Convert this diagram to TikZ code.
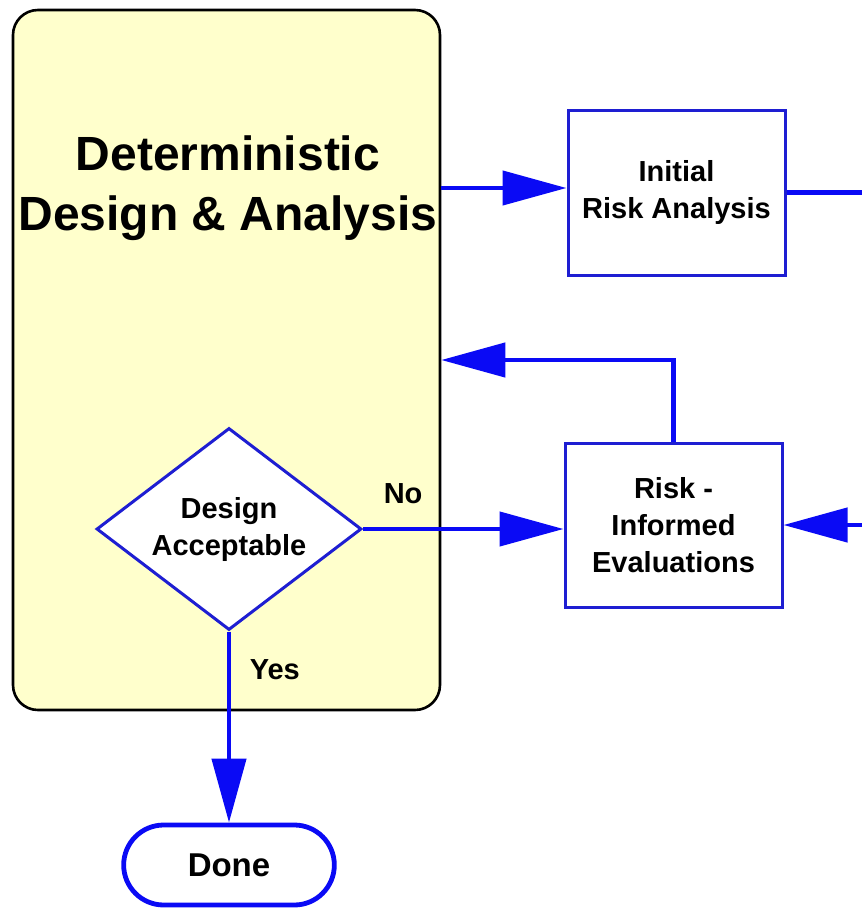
\documentclass[tikz,border=0pt]{standalone}
\usepackage{fontspec}
\setmainfont{Liberation Sans}
\usetikzlibrary{arrows.meta,shapes.geometric,shapes.misc,positioning}
\definecolor{padyellow}{RGB}{255,255,204}
\definecolor{boxblue}{RGB}{30,30,210}
\definecolor{flowblue}{RGB}{10,10,245}

\begin{document}
\begin{tikzpicture}[x=0.5pt,y=-0.5pt,
    procbox/.style={draw=boxblue,line width=1.5pt,fill=white,minimum width=108.5pt,
      minimum height=82pt,align=center,font=\bfseries\fontsize{14.5}{18.5}\selectfont},
    decision/.style={diamond,aspect=1.5,draw=boxblue,line width=1.5pt,fill=white,inner sep=0pt,
      minimum width=132.5pt,minimum height=101pt,align=center,
      font=\bfseries\fontsize{14.5}{18.5}\selectfont},
    terminal/.style={rounded rectangle,draw=flowblue,line width=2.4pt,fill=white,
      minimum width=112pt,minimum height=40pt,font=\bfseries\fontsize{16.5}{20}\selectfont},
    flowarrow/.style={draw=flowblue,line width=2.2pt,
      -{Triangle[length=32pt,width=17pt,fill=flowblue]}},
    lbl/.style={font=\bfseries\fontsize{14.5}{18.5}\selectfont}]
  \useasboundingbox (0,0) rectangle (862,910);
  % deterministic stage
  \node[draw=black,line width=1.3pt,fill=padyellow,rounded corners=12.5pt,
        minimum width=213.5pt,minimum height=350pt] (detbox) at (226.5,360) {};
  \node[align=center,font=\bfseries\fontsize{24}{30}\selectfont] (title) at (228,188)
        {Deterministic\\Design \& Analysis};
  \node[decision] (accept) at (229,529) {Design\\Acceptable};
  % risk side
  \node[procbox,minimum height=82.5pt] (initrisk) at (676.5,192.5) {Initial\\Risk Analysis};
  \node[procbox] (riskeval) at (673.5,525) {Risk -\\Informed\\Evaluations};
  \node[terminal] (done) at (229,865) {Done};
  \coordinate (redge) at (862,0);
  % connectors
  \draw[flowarrow] (detbox.east |- title) -- (title -| initrisk.west);
  \draw[draw=flowblue,line width=2.2pt] (initrisk.east) -- (initrisk.east -| redge);
  \draw[flowarrow] (riskeval.east -| redge) -- (riskeval.east);
  \draw[flowarrow] (riskeval.north) |- (detbox.east);
  \draw[flowarrow] (accept.east) -- (accept.east -| riskeval.west)
        node[lbl,pos=0.2,above=8pt] (nolbl) {No};
  \draw[flowarrow] (accept.south) -- (done.north)
        node[lbl,pos=0.2,right=6pt] (yeslbl) {Yes};
\end{tikzpicture}
\end{document}
